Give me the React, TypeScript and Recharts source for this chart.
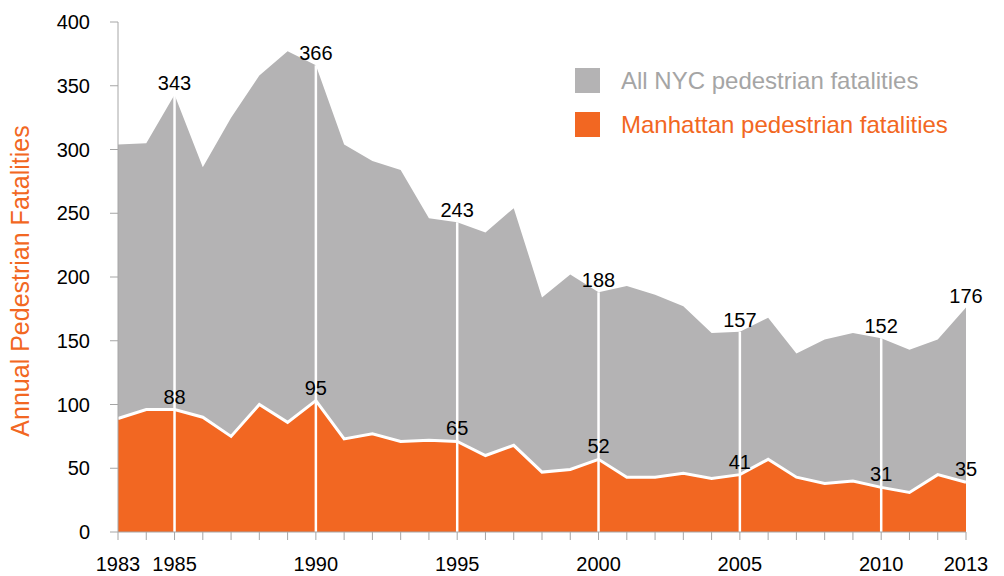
import React from 'react';
import { AreaChart, Area, XAxis, YAxis, ReferenceLine, LabelList } from 'recharts';

const years = [1983, 1984, 1985, 1986, 1987, 1988, 1989, 1990, 1991, 1992, 1993, 1994, 1995, 1996, 1997, 1998, 1999, 2000, 2001, 2002, 2003, 2004, 2005, 2006, 2007, 2008, 2009, 2010, 2011, 2012, 2013];
const allNyc = [304, 305, 343, 286, 325, 358, 377, 366, 304, 291, 284, 246, 243, 235, 254, 184, 202, 188, 193, 186, 177, 156, 157, 168, 140, 151, 156, 152, 143, 151, 176];
const manhattan = [89, 96, 96, 90, 75, 100, 86, 103, 73, 77, 71, 72, 71, 60, 68, 47, 49, 57, 43, 43, 46, 42, 45, 57, 43, 38, 40, 35, 31, 45, 39];
const labelYears = [1985, 1990, 1995, 2000, 2005, 2010, 2013];
const nycLabels = ['343', '366', '243', '188', '157', '152', '176'];
const manhattanLabels = ['88', '95', '65', '52', '41', '31', '35'];
const dividerYears = [1985, 1990, 1995, 2000, 2005, 2010];
const axisYears = [1983, 1985, 1990, 1995, 2000, 2005, 2010, 2013];
const yTicks = [0, 50, 100, 150, 200, 250, 300, 350, 400];

const GREY = '#b4b3b4';
const ORANGE = '#f26722';
const AXIS = '#a6a6a6';

const data = years.map((year, i) => {
  const k = labelYears.indexOf(year);
  return {
    year,
    all: allNyc[i],
    manhattan: manhattan[i],
    allLabel: k >= 0 ? nycLabels[k] : undefined,
    manLabel: k >= 0 ? manhattanLabels[k] : undefined,
  };
});

export default function App() {
  return (
    <div
      style={{
        position: 'absolute',
        left: 0,
        top: 0,
        width: 1004,
        height: 576,
        fontFamily: '"Liberation Sans", Arial, Helvetica, sans-serif',
        background: '#fff',
      }}
    >
      <AreaChart width={1004} height={576} data={data} margin={{ top: 22, right: 38, bottom: 0, left: 0 }}>
        <XAxis
          type="number"
          dataKey="year"
          domain={[1983, 2013]}
          ticks={years}
          interval={0}
          height={44}
          tickSize={8}
          tickMargin={17}
          stroke={AXIS}
          tick={{ fill: '#000', fontSize: 20 }}
          tickFormatter={(v: number) => (axisYears.includes(v) ? String(v) : '')}
        />
        <YAxis
          type="number"
          domain={[0, 400]}
          ticks={yTicks}
          interval={0}
          width={118}
          tickSize={8}
          tickMargin={20}
          stroke={AXIS}
          tick={{ fill: '#000', fontSize: 20 }}
          label={{
            content: () => (
              <text
                x={29}
                y={281}
                transform="rotate(-90 29 281)"
                textAnchor="middle"
                fontSize={25}
                fill={ORANGE}
              >
                Annual Pedestrian Fatalities
              </text>
            ),
          }}
        />
        <Area
          type="linear"
          dataKey="all"
          fill={GREY}
          fillOpacity={1}
          stroke="none"
          isAnimationActive={false}
        >
          <LabelList dataKey="allLabel" position="top" offset={5} fill="#000" fontSize={20} />
        </Area>
        <Area
          type="linear"
          dataKey="manhattan"
          fill={ORANGE}
          fillOpacity={1}
          stroke="#ffffff"
          strokeWidth={3}
          isAnimationActive={false}
        >
          <LabelList dataKey="manLabel" position="top" offset={6} fill="#000" fontSize={20} />
        </Area>
        {dividerYears.map((yr) => (
          <ReferenceLine
            key={yr}
            segment={[
              { x: yr, y: 0 },
              { x: yr, y: allNyc[years.indexOf(yr)] },
            ]}
            stroke="#ffffff"
            strokeWidth={2.5}
          />
        ))}
      </AreaChart>
      <div style={{ position: 'absolute', left: 575, top: 68, width: 25, height: 25, background: GREY }} />
      <div
        style={{
          position: 'absolute',
          left: 621,
          top: 66,
          fontSize: 24,
          lineHeight: '30px',
          color: '#a5a5a5',
          whiteSpace: 'nowrap',
        }}
      >
        All NYC pedestrian fatalities
      </div>
      <div style={{ position: 'absolute', left: 575, top: 112, width: 25, height: 25, background: ORANGE }} />
      <div
        style={{
          position: 'absolute',
          left: 621,
          top: 110,
          fontSize: 24,
          lineHeight: '30px',
          color: ORANGE,
          whiteSpace: 'nowrap',
        }}
      >
        Manhattan pedestrian fatalities
      </div>
    </div>
  );
}
